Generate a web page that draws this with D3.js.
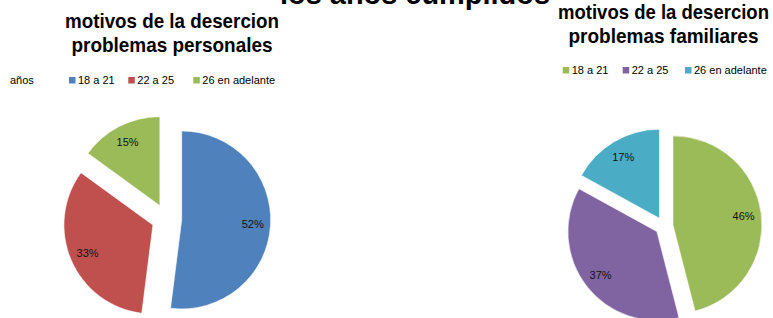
<!DOCTYPE html>
<html>
<head>
<meta charset="utf-8">
<script src="https://cdn.jsdelivr.net/npm/d3@7"></script>
<style>
  html, body { margin: 0; padding: 0; background: #fff; }
  svg { display: block; }
</style>
</head>
<body>
<svg id="chart" width="773" height="318"></svg>
<script>
// data
const categories = ['18 a 21', '22 a 25', '26 en adelante'];
const personales = [52, 33, 15];
const familiares = [46, 37, 17];
const legendLabel = 'años';
const mainTitle = 'los años cumplidos';
const titlePersonales = ['motivos de la desercion', 'problemas personales'];
const titleFamiliares = ['motivos de la desercion', 'problemas familiares'];

const width = 773;
const height = 318;
const svg = d3.select('#chart');

// main title, cut by the top edge like in the original screenshot
svg.append('text')
  .attr('x', 280)
  .attr('y', 4)
  .attr('font-family', '"Liberation Sans", Arial, sans-serif')
  .attr('font-weight', 'bold')
  .attr('font-size', 29)
  .attr('fill', '#000')
  .attr('textLength', 270)
  .attr('lengthAdjust', 'spacingAndGlyphs')
  .text(mainTitle);

const charts = [
  {
    values: personales,
    colors: ['#4F81BD', '#C0504D', '#9BBB59'],
    cx: 166.7, cy: 219, r: 89, explode: 15,
    title: titlePersonales,
    titleX: 172, titleY: 27.5, titleW: [214, 201],
    showAxisLabel: true,
    legendY: 84,
    legendX: [69, 128.3, 193.3]
  },
  {
    values: familiares,
    colors: ['#9BBB59', '#8064A2', '#4BACC6'],
    cx: 664, cy: 226, r: 89, explode: 9,
    title: titleFamiliares,
    titleX: 663.5, titleY: 18.5, titleW: [211, 190],
    showAxisLabel: false,
    legendY: 74,
    legendX: [562.7, 622.7, 685]
  }
];

const pie = d3.pie().sort(null).value(d => d);

charts.forEach(cfg => {
  const g = svg.append('g');
  const arcs = pie(cfg.values);
  const total = d3.sum(cfg.values);
  const arc = d3.arc().innerRadius(0).outerRadius(cfg.r);
  const labelArc = d3.arc().innerRadius(cfg.r * 0.8).outerRadius(cfg.r * 0.8);

  // exploded slices, each pushed out along its mid angle
  const slice = g.selectAll('g.slice')
    .data(arcs)
    .enter()
    .append('g')
    .attr('class', 'slice')
    .attr('transform', d => {
      const mid = (d.startAngle + d.endAngle) / 2;
      const dx = cfg.explode * Math.sin(mid);
      const dy = -cfg.explode * Math.cos(mid);
      return `translate(${cfg.cx + dx},${cfg.cy + dy})`;
    });

  slice.append('path')
    .attr('d', arc)
    .attr('fill', (d, i) => cfg.colors[i])
    .attr('stroke', '#fff')
    .attr('stroke-width', 0.6);

  slice.append('text')
    .attr('transform', d => `translate(${labelArc.centroid(d)})`)
    .attr('text-anchor', 'middle')
    .attr('dy', '0.35em')
    .attr('font-family', '"Liberation Sans", Arial, sans-serif')
    .attr('font-size', 11)
    .attr('fill', '#111')
    .text(d => Math.round(d.data / total * 100) + '%');

  // title
  cfg.title.forEach((line, i) => {
    svg.append('text')
      .attr('x', cfg.titleX)
      .attr('y', cfg.titleY + i * 24.3)
      .attr('text-anchor', 'middle')
      .attr('font-family', '"Liberation Sans", Arial, sans-serif')
      .attr('font-weight', 'bold')
      .attr('font-size', 20.5)
      .attr('fill', '#000')
      .attr('textLength', cfg.titleW[i])
      .attr('lengthAdjust', 'spacingAndGlyphs')
      .text(line);
  });

  // legend
  if (cfg.showAxisLabel) {
    svg.append('text')
      .attr('x', 10)
      .attr('y', cfg.legendY)
      .attr('font-family', '"Liberation Sans", Arial, sans-serif')
      .attr('font-size', 11)
      .attr('fill', '#000')
      .text(legendLabel);
  }
  const leg = svg.append('g').selectAll('g')
    .data(categories)
    .enter()
    .append('g')
    .attr('transform', (d, i) => `translate(${cfg.legendX[i]},${cfg.legendY})`);
  leg.append('rect')
    .attr('x', 0)
    .attr('y', -7)
    .attr('width', 6.5)
    .attr('height', 6.5)
    .attr('fill', (d, i) => cfg.colors[i]);
  leg.append('text')
    .attr('x', 9)
    .attr('y', 0)
    .attr('font-family', '"Liberation Sans", Arial, sans-serif')
    .attr('font-size', 11)
    .attr('fill', '#000')
    .text(d => d);
});
</script>
</body>
</html>
